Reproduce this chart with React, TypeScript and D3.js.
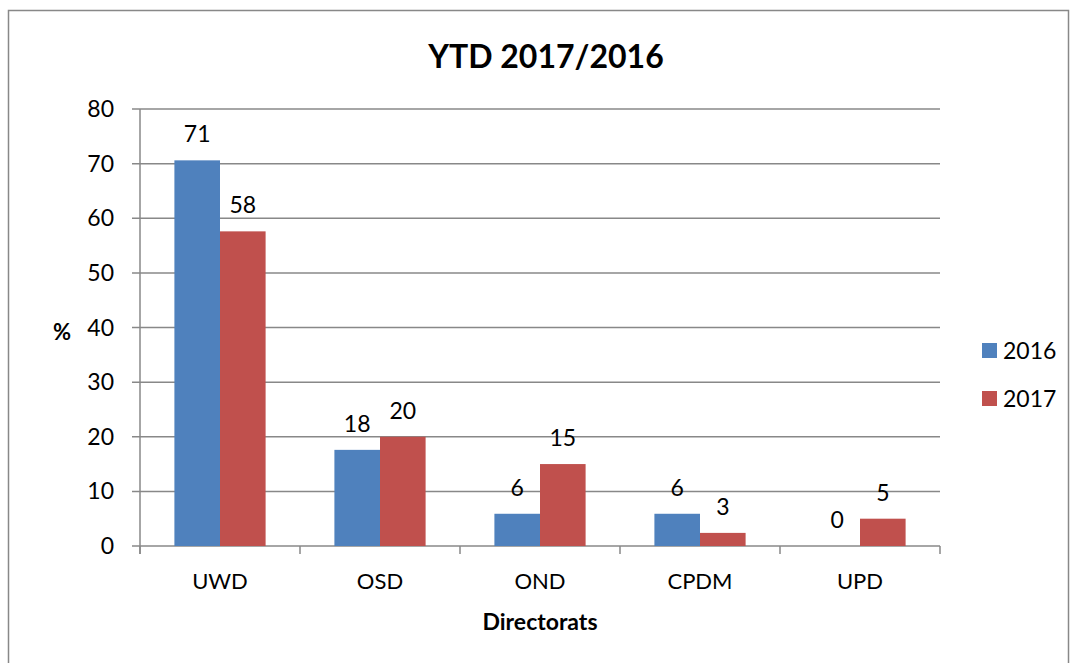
import * as d3 from "d3"

const categories = ["UWD", "OSD", "OND", "CPDM", "UPD"]
const series = ["2016", "2017"]
const values2016 = [70.6, 17.6, 5.9, 5.9, 0]
const values2017 = [57.6, 20, 15, 2.4, 5]
const labels2016 = ["71", "18", "6", "6", "0"]
const labels2017 = ["58", "20", "15", "3", "5"]
const yTicks = [0, 10, 20, 30, 40, 50, 60, 70, 80]
const colors = ["#4f81bd", "#c0504d"]

const W = 1070
const H = 663
const PLOT = { left: 140, right: 940, top: 109, bottom: 546 }
const FONT = "Lato, Carlito, Calibri, 'Open Sans', sans-serif"

export default function App() {
  const x = d3.scaleBand().domain(categories).range([PLOT.left, PLOT.right]).paddingInner(0.43).paddingOuter(0.215)
  const sub = d3.scaleBand().domain(series).range([0, x.bandwidth()])
  const y = d3.scaleLinear().domain([0, 80]).range([PLOT.bottom, PLOT.top])
  const step = (PLOT.right - PLOT.left) / categories.length
  const rows = categories.map((c, i) => ({
    c,
    vals: [values2016[i], values2017[i]],
    labs: [labels2016[i], labels2017[i]],
  }))

  return (
    <svg width={W} height={H} style={{ position: "absolute", left: 0, top: 0, fontFamily: FONT }}>
      <rect x={8.5} y={10.5} width={1060} height={700} fill="#fff" stroke="#888" strokeWidth={1.5} />
      <text x={546} y={68} textAnchor="middle" fontWeight={700} fontSize={32}>YTD 2017/2016</text>

      {yTicks.map(t => (
        <g key={t}>
          <line x1={PLOT.left - 8} x2={PLOT.right} y1={y(t)} y2={y(t)} stroke="#888" strokeWidth={1.5} />
          <text x={114} y={y(t) + 8} textAnchor="end" fontSize={23}>{t}</text>
        </g>
      ))}
      <line x1={PLOT.left} x2={PLOT.left} y1={PLOT.top} y2={PLOT.bottom + 8} stroke="#888" strokeWidth={1.5} />
      {d3.range(categories.length + 1).map(i => (
        <line key={i} x1={PLOT.left + i * step} x2={PLOT.left + i * step} y1={PLOT.bottom} y2={PLOT.bottom + 8} stroke="#888" strokeWidth={1.5} />
      ))}

      {rows.map(r => (
        <g key={r.c}>
          {r.vals.map((v, j) => {
            const bx = (x(r.c) ?? 0) + (sub(series[j]) ?? 0)
            return (
              <g key={j}>
                <rect x={bx} y={y(v)} width={sub.bandwidth()} height={y(0) - y(v)} fill={colors[j]} />
                <text x={bx + sub.bandwidth() / 2} y={y(v) - 18} textAnchor="middle" fontSize={23}>{r.labs[j]}</text>
              </g>
            )
          })}
          <text x={(x(r.c) ?? 0) + x.bandwidth() / 2} y={589} textAnchor="middle" fontSize={22}>{r.c}</text>
        </g>
      ))}

      <text x={540} y={630} textAnchor="middle" fontWeight={700} fontSize={23}>Directorats</text>
      <text x={62} y={340} textAnchor="middle" fontWeight={700} fontSize={22}>%</text>

      {series.map((s, i) => (
        <g key={s} transform={`translate(982, ${343 + i * 48})`}>
          <rect width={15} height={15} fill={colors[i]} />
          <text x={21} y={16} fontSize={23}>{s}</text>
        </g>
      ))}
    </svg>
  )
}
